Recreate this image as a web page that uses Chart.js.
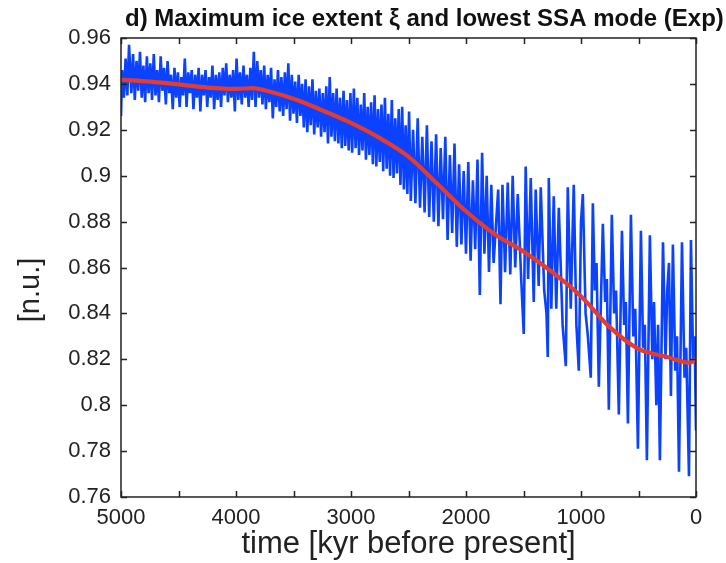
<!DOCTYPE html>
<html>
<head>
<meta charset="utf-8">
<script src="https://cdn.jsdelivr.net/npm/chart.js@4.4.1/dist/chart.umd.min.js"></script>
<style>
  html, body { margin: 0; padding: 0; background: #fff; }
  canvas { display: block; }
</style>
</head>
<body>
<canvas id="iceChart" width="726" height="563"></canvas>
<script>
// max ice extent (normalised), kyr before present
const iceTime = [
  5000, 4990, 4975, 4960, 4945, 4930, 4910, 4895, 4880, 4865,
  4850, 4835, 4820, 4805, 4790, 4775, 4760, 4745, 4730, 4715,
  4700, 4685, 4670, 4655, 4640, 4625, 4610, 4595, 4580, 4565,
  4550, 4535, 4520, 4505, 4490, 4475, 4460, 4445, 4430, 4415,
  4400, 4385, 4370, 4355, 4340, 4325, 4310, 4295, 4280, 4265,
  4250, 4235, 4220, 4205, 4190, 4175, 4160, 4145, 4130, 4115,
  4100, 4085, 4070, 4055, 4040, 4025, 4010, 3995, 3980, 3965,
  3950, 3935, 3920, 3905, 3890, 3875, 3860, 3845, 3830, 3815,
  3800, 3785, 3770, 3755, 3740, 3725, 3710, 3695, 3680, 3665,
  3650, 3635, 3620, 3605, 3590, 3575, 3560, 3545, 3530, 3515,
  3500, 3485, 3470, 3455, 3440, 3425, 3410, 3395, 3380, 3365,
  3350, 3335, 3320, 3305, 3290, 3275, 3260, 3245, 3230, 3215,
  3200, 3185, 3170, 3155, 3140, 3125, 3110, 3095, 3080, 3065,
  3050, 3035, 3020, 3005, 2990, 2975, 2960, 2945, 2930, 2915,
  2900, 2885, 2870, 2855, 2840, 2825, 2810, 2795, 2780, 2765,
  2750, 2735, 2720, 2705, 2690, 2675, 2660, 2645, 2630, 2615,
  2600, 2585, 2570, 2555, 2540, 2525, 2510, 2495, 2480, 2460,
  2440, 2420, 2400, 2380, 2360, 2340, 2320, 2300, 2280, 2260,
  2240, 2220, 2200, 2180, 2160, 2140, 2120, 2100, 2080, 2060,
  2040, 2020, 2000, 1980, 1960, 1940, 1920, 1900, 1880, 1860,
  1840, 1820, 1800, 1780, 1760, 1740, 1720, 1700, 1683, 1660,
  1637, 1615, 1594, 1572, 1550, 1520, 1498, 1481, 1460, 1437,
  1411, 1394, 1368, 1350, 1320, 1300, 1289, 1280, 1258, 1237,
  1215, 1193, 1160, 1132, 1115, 1089, 1063, 1040, 1019, 1000,
  984, 960, 940, 915, 897, 880, 865, 845, 810, 790,
  775, 758, 732, 712, 695, 671, 644, 625, 610, 592,
  566, 545, 528, 505, 479, 460, 445, 427, 401, 380,
  365, 345, 330, 314, 287, 265, 250, 235, 218, 201,
  180, 165, 148, 122, 100, 85, 61, 44, 25, 12,
  0
];
const iceExtent = [
  0.926, 0.946, 0.934, 0.951, 0.935, 0.957, 0.936, 0.953, 0.933, 0.950,
  0.937, 0.954, 0.934, 0.948, 0.932, 0.952, 0.936, 0.949, 0.933, 0.953,
  0.935, 0.946, 0.932, 0.952, 0.937, 0.947, 0.931, 0.950, 0.936, 0.944,
  0.929, 0.947, 0.934, 0.945, 0.930, 0.943, 0.935, 0.951, 0.930, 0.945,
  0.936, 0.946, 0.929, 0.944, 0.934, 0.947, 0.928, 0.944, 0.935, 0.946,
  0.930, 0.943, 0.934, 0.948, 0.929, 0.944, 0.933, 0.945, 0.930, 0.947,
  0.935, 0.949, 0.932, 0.944, 0.934, 0.946, 0.928, 0.951, 0.933, 0.945,
  0.931, 0.948, 0.934, 0.944, 0.930, 0.947, 0.933, 0.954, 0.930, 0.950,
  0.934, 0.946, 0.931, 0.948, 0.929, 0.944, 0.932, 0.947, 0.925, 0.942,
  0.930, 0.946, 0.928, 0.943, 0.926, 0.945, 0.929, 0.949, 0.924, 0.944,
  0.927, 0.941, 0.923, 0.944, 0.926, 0.940, 0.921, 0.942, 0.919, 0.939,
  0.922, 0.942, 0.918, 0.937, 0.921, 0.938, 0.917, 0.936, 0.919, 0.939,
  0.914, 0.943, 0.917, 0.936, 0.915, 0.938, 0.914, 0.934, 0.912, 0.937,
  0.913, 0.933, 0.911, 0.936, 0.910, 0.938, 0.912, 0.934, 0.909, 0.931,
  0.911, 0.936, 0.907, 0.930, 0.909, 0.932, 0.905, 0.935, 0.904, 0.929,
  0.906, 0.931, 0.902, 0.934, 0.903, 0.927, 0.900, 0.933, 0.899, 0.925,
  0.901, 0.929, 0.896, 0.930, 0.894, 0.922, 0.892, 0.928, 0.889, 0.920,
  0.888, 0.925, 0.886, 0.917, 0.884, 0.922, 0.882, 0.915, 0.880, 0.918,
  0.878, 0.912, 0.881, 0.917, 0.872, 0.909, 0.875, 0.914, 0.869, 0.905,
  0.870, 0.902, 0.866, 0.906, 0.863, 0.898, 0.868, 0.907, 0.848, 0.910,
  0.866, 0.900, 0.858, 0.896, 0.862, 0.878, 0.894, 0.844, 0.896, 0.858,
  0.897, 0.857, 0.900, 0.860, 0.892, 0.855, 0.831, 0.904, 0.855, 0.899,
  0.845, 0.894, 0.852, 0.895, 0.850, 0.840, 0.821, 0.899, 0.842, 0.891,
  0.842, 0.886, 0.835, 0.817, 0.895, 0.842, 0.896, 0.835, 0.815, 0.880,
  0.892, 0.840, 0.830, 0.812, 0.888, 0.850, 0.862, 0.808, 0.879, 0.845,
  0.855, 0.798, 0.883, 0.840, 0.850, 0.796, 0.876, 0.835, 0.845, 0.792,
  0.883, 0.830, 0.842, 0.781, 0.876, 0.825, 0.835, 0.776, 0.874, 0.820,
  0.845, 0.800, 0.835, 0.776, 0.871, 0.820, 0.850, 0.862, 0.804, 0.870,
  0.815, 0.830, 0.771, 0.871, 0.812, 0.825, 0.769, 0.872, 0.820, 0.830,
  0.789
];

// lowest SSA mode (smooth trend)
const ssaTime = [5000, 4750, 4500, 4250, 4000, 3850, 3750, 3500, 3250, 3000, 2750, 2500,
                 2250, 2000, 1750, 1500, 1250, 1000, 750, 500, 250, 50, 0];
const ssaMode = [0.9418, 0.9410, 0.9398, 0.9384, 0.9378, 0.9382, 0.9372, 0.9335, 0.9285, 0.9230,
                 0.9164, 0.9083, 0.8965, 0.8845, 0.8745, 0.8670, 0.8580, 0.8475, 0.8340, 0.8245,
                 0.8210, 0.8185, 0.8203];

const titleText = 'd) Maximum ice extent \u03BE and lowest SSA mode (Exp)';
const xTitle = 'time [kyr before present]';
const yTitle = '[n.u.]';

const textColor = '#222';
const fontFamily = '"Liberation Sans", Arial, Helvetica, sans-serif';

// box round the plot with inward ticks on all four sides, heading and y label
const framePlugin = {
  id: 'frame',
  afterDraw(chart) {
    const { ctx, chartArea: a, scales: { x, y } } = chart;
    ctx.save();
    ctx.strokeStyle = '#222';
    ctx.lineWidth = 1.5;
    ctx.strokeRect(a.left, a.top, a.right - a.left, a.bottom - a.top);
    ctx.beginPath();
    x.ticks.forEach(t => {
      const px = Math.round(x.getPixelForValue(t.value)) + 0.5;
      ctx.moveTo(px, a.bottom); ctx.lineTo(px, a.bottom - 6);
      ctx.moveTo(px, a.top); ctx.lineTo(px, a.top + 6);
    });
    y.ticks.forEach(t => {
      const py = Math.round(y.getPixelForValue(t.value)) + 0.5;
      ctx.moveTo(a.left, py); ctx.lineTo(a.left + 6, py);
      ctx.moveTo(a.right, py); ctx.lineTo(a.right - 6, py);
    });
    ctx.stroke();

    ctx.fillStyle = '#111';
    ctx.font = 'bold 24px "Liberation Sans Narrow", "Liberation Sans", Arial, sans-serif';
    ctx.textBaseline = 'alphabetic';
    ctx.textAlign = 'left';
    ctx.fillText(titleText, 125, 26);

    ctx.fillStyle = textColor;
    ctx.font = '29px ' + fontFamily;
    ctx.translate(31, 290);
    ctx.rotate(-Math.PI / 2);
    ctx.textAlign = 'center';
    ctx.textBaseline = 'middle';
    ctx.fillText(yTitle, 0, 0);
    ctx.restore();
  }
};

const icePoints = iceTime.map((t, i) => ({ x: t, y: iceExtent[i] }));
const ssaPoints = ssaTime.map((t, i) => ({ x: t, y: ssaMode[i] }));

const ctx = document.getElementById('iceChart').getContext('2d');
new Chart(ctx, {
  type: 'line',
  data: {
    datasets: [
      {
        label: 'lowest SSA mode',
        data: ssaPoints,
        borderColor: '#e63c2c',
        borderWidth: 4.2,
        pointRadius: 0,
        cubicInterpolationMode: 'monotone',
        order: 0
      },
      {
        label: 'max ice extent',
        data: icePoints,
        borderColor: '#0a42ff',
        borderWidth: 2.6,
        pointRadius: 0,
        tension: 0,
        order: 1
      }
    ]
  },
  options: {
    responsive: false,
    animation: false,
    devicePixelRatio: 1,
    layout: { padding: { top: 38, right: 30, bottom: 0, left: 0 } },
    plugins: {
      legend: { display: false },
      tooltip: { enabled: false }
    },
    scales: {
      x: {
        type: 'linear',
        reverse: true,
        min: 0,
        max: 5000,
        grid: { display: false, drawTicks: false },
        border: { display: false },
        ticks: {
          stepSize: 500,
          autoSkip: false,
          maxRotation: 0,
          padding: 8,
          color: textColor,
          font: { family: fontFamily, size: 22 },
          callback: v => (v % 1000 === 0 ? String(v) : '')
        },
        title: {
          display: true,
          text: xTitle,
          color: textColor,
          font: { family: fontFamily, size: 31 },
          padding: { top: 0, bottom: 0 }
        },
        afterFit: s => { s.height = 66; }
      },
      y: {
        min: 0.76,
        max: 0.96,
        grid: { display: false, drawTicks: false },
        border: { display: false },
        ticks: {
          stepSize: 0.02,
          padding: 10,
          color: textColor,
          font: { family: fontFamily, size: 22 },
          callback: v => String(+v.toFixed(2))
        },
        afterFit: s => { s.width = 121; }
      }
    }
  },
  plugins: [framePlugin]
});
</script>
</body>
</html>
